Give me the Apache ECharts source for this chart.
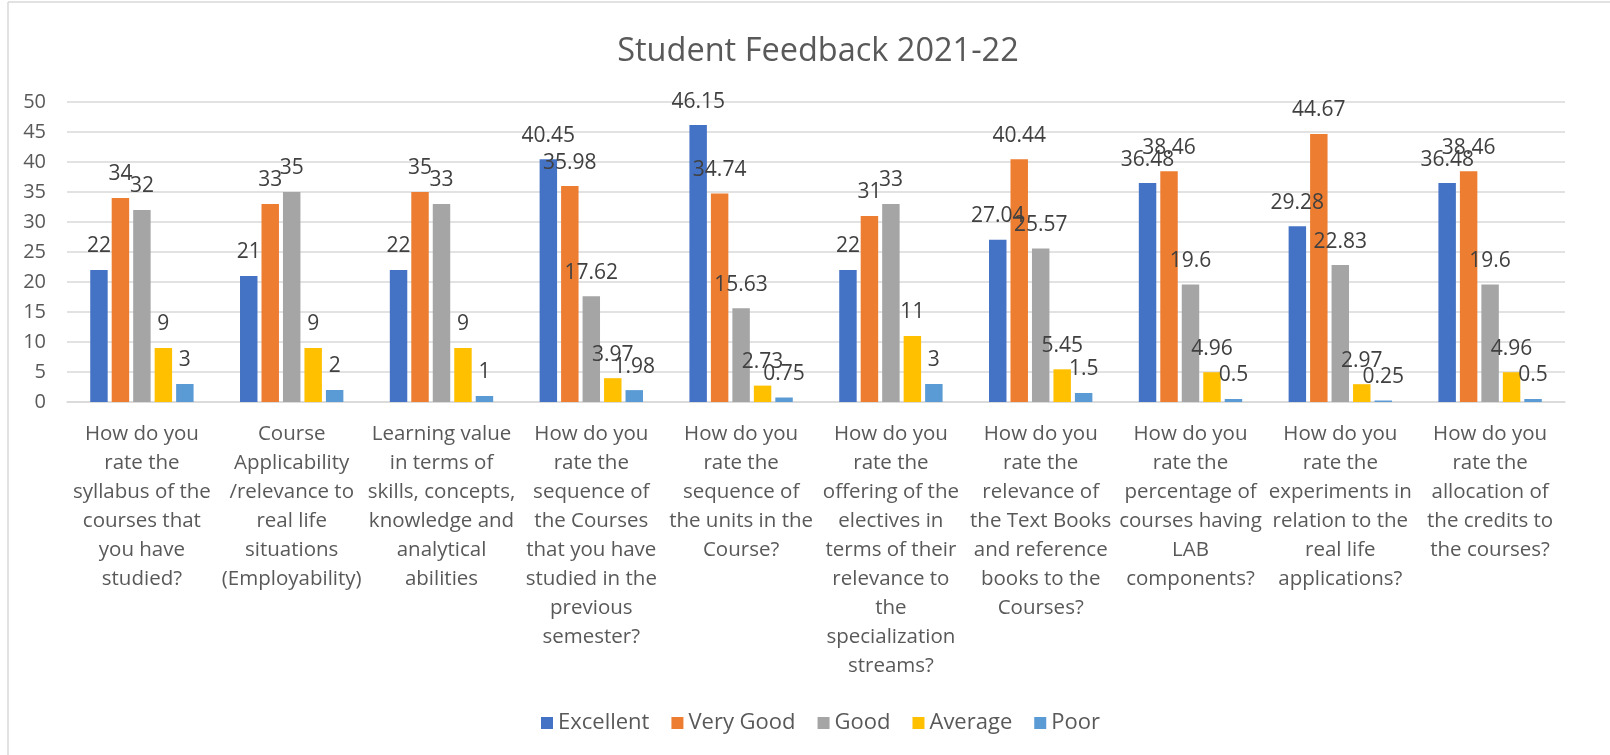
<!DOCTYPE html>
<html>
<head>
<meta charset="utf-8">
<script src="https://cdn.jsdelivr.net/npm/echarts@6/dist/echarts.min.js"></script>
<style>
  html, body { margin: 0; padding: 0; background: #fff; }
  #chart { width: 1610px; height: 755px; }
</style>
</head>
<body>
<div id="chart"></div>
<script>
// question labels, wrapped the way the original chart shows them
const categories = [
  'How do you\nrate the\nsyllabus of the\ncourses that\nyou have\nstudied?',
  'Course\nApplicability\n/relevance to\nreal life\nsituations\n(Employability)',
  'Learning value\nin terms of\nskills, concepts,\nknowledge and\nanalytical\nabilities',
  'How do you\nrate the\nsequence of\nthe Courses\nthat you have\nstudied in the\nprevious\nsemester?',
  'How do you\nrate the\nsequence of\nthe units in the\nCourse?',
  'How do you\nrate the\noffering of the\nelectives in\nterms of their\nrelevance to\nthe\nspecialization\nstreams?',
  'How do you\nrate the\nrelevance of\nthe Text Books\nand reference\nbooks to the\nCourses?',
  'How do you\nrate the\npercentage of\ncourses having\nLAB\ncomponents?',
  'How do you\nrate the\nexperiments in\nrelation to the\nreal life\napplications?',
  'How do you\nrate the\nallocation of\nthe credits to\nthe courses?'
]
const excellent = [22, 21, 22, 40.45, 46.15, 22, 27.04, 36.48, 29.28, 36.48]
const veryGood = [34, 33, 35, 35.98, 34.74, 31, 40.44, 38.46, 44.67, 38.46]
const good = [32, 35, 33, 17.62, 15.63, 33, 25.57, 19.6, 22.83, 19.6]
const average = [9, 9, 9, 3.97, 2.73, 11, 5.45, 4.96, 2.97, 4.96]
const poor = [3, 2, 1, 1.98, 0.75, 3, 1.5, 0.5, 0.25, 0.5]

const seriesNames = ['Excellent', 'Very Good', 'Good', 'Average', 'Poor']
const seriesData = [excellent, veryGood, good, average, poor]
const colors = ['#4472C4', '#ED7D31', '#A5A5A5', '#FFC000', '#5B9BD5']

const font = '"Open Sans", "Noto Sans", sans-serif'

const chart = echarts.init(document.getElementById('chart'))

const series = seriesNames.map((name, i) => ({
  name: name,
  type: 'bar',
  data: seriesData[i],
  itemStyle: { color: colors[i] },
  barGap: '23%',
  barCategoryGap: '31%',
  label: {
    show: true,
    position: 'top',
    distance: 13,
    color: '#404040',
    fontSize: 21,
    fontFamily: font
  },
  animation: false
}))

chart.setOption({
  color: colors,
  animation: false,
  title: {
    text: 'Student Feedback 2021-22',
    left: 813,
    textAlign: 'center',
    top: 30,
    textStyle: {
      color: '#595959',
      fontSize: 32.5,
      fontWeight: 'normal',
      fontFamily: font
    }
  },
  legend: {
    data: seriesNames,
    left: 536,
    top: 707,
    itemWidth: 12,
    itemHeight: 12,
    itemGap: 22,
    icon: 'rect',
    textStyle: { color: '#595959', fontSize: 22, fontFamily: font }
  },
  grid: {
    left: 67,
    right: 45,
    top: 102,
    bottom: 353,
    containLabel: false
  },
  xAxis: {
    type: 'category',
    data: categories,
    axisTick: { show: false },
    axisLine: { lineStyle: { color: '#D9D9D9', width: 1.5 } },
    axisLabel: {
      interval: 0,
      margin: 18,
      color: '#595959',
      fontSize: 20.5,
      lineHeight: 29,
      fontFamily: font
    }
  },
  yAxis: {
    type: 'value',
    min: 0,
    max: 50,
    interval: 5,
    axisLine: { show: false },
    axisTick: { show: false },
    splitLine: { lineStyle: { color: '#D9D9D9', width: 1.5 } },
    axisLabel: {
      margin: 21,
      color: '#595959',
      fontSize: 20,
      fontFamily: font
    }
  },
  graphic: [
    { type: 'line', shape: { x1: 8, y1: 2, x2: 1610, y2: 2 }, style: { stroke: '#D9D9D9', lineWidth: 1.5 }, silent: true },
    { type: 'line', shape: { x1: 8, y1: 2, x2: 8, y2: 755 }, style: { stroke: '#D9D9D9', lineWidth: 1.5 }, silent: true }
  ],
  series: series
})
</script>
</body>
</html>
